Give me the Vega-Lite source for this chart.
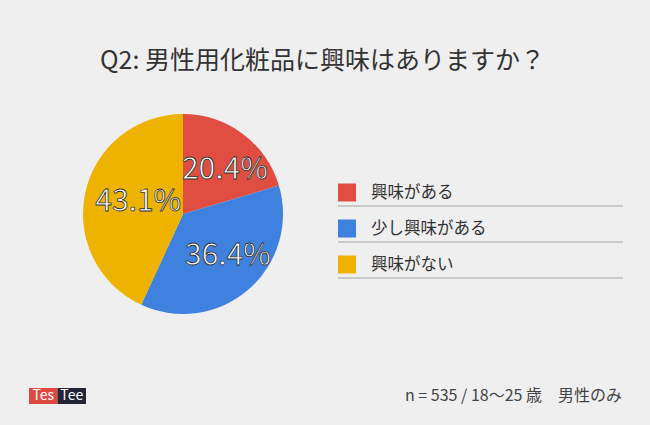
{
  "$schema": "https://vega.github.io/schema/vega-lite/v6.json",
  "background": "#efefef",
  "padding": {"left": 29, "right": 28, "top": 49, "bottom": 22},
  "title": {"text": "Q2: 男性用化粧品に興味はありますか？", "fontSize": 25, "font": "Noto Sans CJK JP", "fontWeight": "normal", "color": "#333333", "anchor": "middle", "offset": 40, "dx": -4},
  "config": {"view": {"stroke": null}, "font": "Noto Sans CJK JP"},
  "datasets": {
    "answers": [
      {"idx": 1, "cat": "興味がある", "pct": 20.4, "label": "20.4%"},
      {"idx": 2, "cat": "少し興味がある", "pct": 36.4, "label": "36.4%"},
      {"idx": 3, "cat": "興味がない", "pct": 43.1, "label": "43.1%"}
    ]
  },
  "spacing": 74,
  "vconcat": [
    {
      "spacing": 0,
      "hconcat": [
        {
          "width": 308,
          "height": 200,
          "data": {"name": "answers"},
          "encoding": {
            "theta": {"field": "pct", "type": "quantitative", "stack": true},
            "order": {"field": "idx", "type": "quantitative"},
            "color": {"field": "cat", "type": "nominal", "scale": {"domain": ["興味がある", "少し興味がある", "興味がない"], "range": ["#e04e41", "#3f81de", "#edb300"]}, "legend": null}
          },
          "layer": [
            {"mark": {"type": "arc", "outerRadius": 100}},
            {
              "mark": {"type": "text", "radius": 55, "dx": 9, "fontSize": 30, "stroke": "#333333", "strokeWidth": 0.8},
              "encoding": {"text": {"field": "label"}, "color": {"value": "#ffffff"}}
            }
          ]
        },
        {
          "width": 285,
          "height": 200,
          "data": {"name": "answers"},
          "encoding": {
            "y": {"field": "cat", "type": "nominal", "sort": ["興味がある", "少し興味がある", "興味がない"], "axis": null, "scale": {"range": [60.5, 168.5], "paddingInner": 0, "paddingOuter": 0}}
          },
          "layer": [
            {
              "mark": {"type": "rule", "color": "#c9c9c9", "strokeWidth": 2},
              "encoding": {"y": {"field": "cat", "type": "nominal", "sort": ["興味がある", "少し興味がある", "興味がない"], "bandPosition": 0.875, "axis": null}}
            },
            {
              "mark": {"type": "point", "shape": "square", "filled": true, "size": 324, "opacity": 1},
              "encoding": {"x": {"value": 9}, "color": {"field": "cat", "type": "nominal", "legend": null}}
            },
            {
              "mark": {"type": "text", "align": "left", "baseline": "middle", "fontSize": 16.5, "color": "#333333"},
              "encoding": {"x": {"value": 33}, "text": {"field": "cat"}}
            }
          ]
        }
      ]
    },
    {
      "width": 593,
      "height": 16,
      "layer": [
        {
          "data": {"values": [{"part": "Tes"}, {"part": "Tee"}]},
          "mark": {"type": "bar"},
          "encoding": {
            "x": {"field": "part", "type": "nominal", "sort": ["Tes", "Tee"], "axis": null, "scale": {"range": [0, 57], "paddingInner": 0, "paddingOuter": 0}},
            "fill": {"field": "part", "type": "nominal", "scale": {"domain": ["Tes", "Tee"], "range": ["#e0493f", "#25253a"]}, "legend": null}
          }
        },
        {
          "data": {"values": [{"part": "Tes"}, {"part": "Tee"}]},
          "mark": {"type": "text", "color": "#ffffff", "fontSize": 14, "baseline": "middle"},
          "encoding": {
            "x": {"field": "part", "type": "nominal", "sort": ["Tes", "Tee"], "axis": null},
            "text": {"field": "part"}
          }
        },
        {
          "data": {"values": [{"note": "n = 535 / 18〜25 歳　男性のみ"}]},
          "mark": {"type": "text", "align": "right", "baseline": "middle", "fontSize": 16, "color": "#444444", "x": "width"},
          "encoding": {"text": {"field": "note"}}
        }
      ]
    }
  ]
}
